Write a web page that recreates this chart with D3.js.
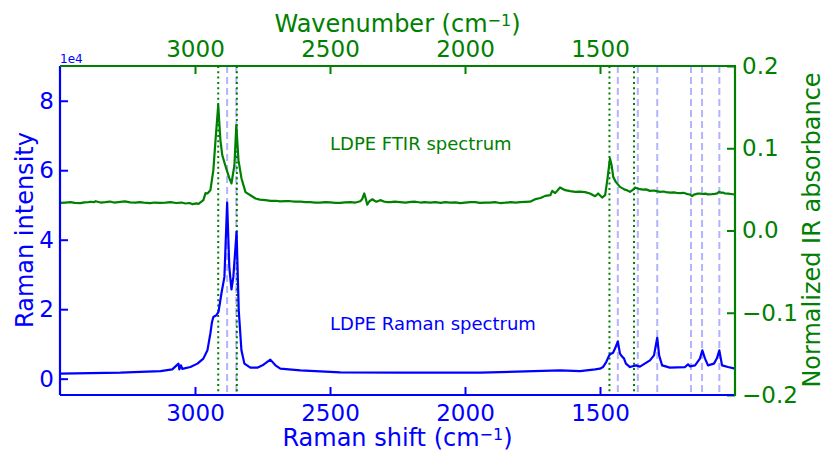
<!DOCTYPE html>
<html><head><meta charset="utf-8">
<script src="https://cdn.jsdelivr.net/npm/d3@7"></script>
<style>
body{margin:0;background:#fff;}
svg{font-family:"DejaVu Sans",sans-serif;}
</style></head>
<body><svg id="chart" width="825" height="452"></svg>
<script>
// Raman spectrum (blue, left axis)
const ramanShift = [3500,3276,3128,3084,3061,3058,3052,3047,3017,2991,2969,2954,2943,2937,2932,2921,2913,2902,2891,2881,2873,2865,2858,2846,2838,2828,2817,2795,2769,2750,2721,2702,2684,2610,2462,2240,1944,1648,1574,1518,1500,1489,1477,1466,1459,1452,1444,1434,1426,1419,1411,1404,1389,1367,1352,1315,1300,1288,1281,1270,1241,1185,1174,1167,1148,1130,1121,1111,1100,1078,1067,1058,1048,1026,1000];
const ramanIntensity = [1440,1730,2190,2680,4330,2680,3840,2830,3350,4330,5770,8160,13070,16330,17770,18260,19210,24600,29300,50650,32190,25670,29300,42280,19700,8160,4330,3170,3170,3840,5480,3840,2880,2390,1820,1730,1730,2390,2190,2680,2880,3350,4790,6720,7210,7380,8740,10760,7210,6430,5770,4330,3350,3840,3460,5280,6720,11770,6720,3840,3170,3350,4120,3550,3840,5770,8160,5770,3840,4330,5860,8160,3840,3350,2880];
// FTIR spectrum (green, right axis)
const irWavenumber = [
  3500,3480,3461,3445,3424,3410,3395,3387,3375,3368,
  3350,3332,3315,3300,3276,3260,3240,3220,3205,3190,
  3165,3150,3130,3109,3090,3070,3050,3035,3020,3009,
  2995,2987,2969,2961,2954,2943,2932,2924,2914,2906,
  2899,2888,2873,2865,2854,2847,2839,2828,2813,2795,
  2776,2760,2739,2720,2700,2685,2665,2647,2630,2610,
  2590,2573,2555,2536,2518,2499,2480,2462,2445,2425,
  2405,2388,2381,2373,2367,2362,2354,2343,2335,2328,
  2314,2300,2290,2277,2260,2240,2220,2200,2184,2165,
  2150,2129,2110,2090,2073,2055,2035,2018,2000,1980,
  1962,1945,1925,1907,1890,1870,1851,1830,1812,1796,
  1778,1759,1740,1720,1703,1684,1677,1666,1648,1629,
  1610,1592,1575,1555,1537,1518,1507,1492,1481,1473,
  1463,1457,1451,1441,1426,1410,1400,1389,1380,1370,
  1360,1352,1340,1330,1315,1300,1290,1278,1265,1255,
  1241,1225,1215,1204,1190,1180,1167,1159,1152,1145,
  1138,1130,1120,1110,1100,1085,1075,1066,1059,1050,
  1045,1037,1025,1015,1000];
const irAbsorbance = [
  0.0336,0.0340,0.0344,0.0336,0.0332,0.0342,0.0346,0.0350,0.0344,0.0356,
  0.0340,0.0344,0.0352,0.0340,0.0348,0.0354,0.0342,0.0338,0.0346,0.0340,
  0.0332,0.0340,0.0336,0.0338,0.0344,0.0334,0.0340,0.0328,0.0334,0.0320,
  0.0330,0.0324,0.0369,0.0454,0.0450,0.0490,0.0734,0.1099,0.1524,0.1099,
  0.0916,0.0794,0.0636,0.0572,0.0794,0.1281,0.0855,0.0636,0.0466,0.0429,
  0.0389,0.0375,0.0369,0.0360,0.0362,0.0354,0.0358,0.0356,0.0350,0.0350,
  0.0346,0.0344,0.0340,0.0338,0.0346,0.0341,0.0336,0.0335,0.0342,0.0344,
  0.0340,0.0356,0.0380,0.0450,0.0380,0.0314,0.0356,0.0380,0.0362,0.0350,
  0.0369,0.0352,0.0346,0.0344,0.0350,0.0344,0.0338,0.0348,0.0350,0.0340,
  0.0346,0.0338,0.0344,0.0336,0.0344,0.0338,0.0342,0.0332,0.0340,0.0346,
  0.0344,0.0336,0.0340,0.0338,0.0344,0.0334,0.0338,0.0344,0.0340,0.0344,
  0.0348,0.0350,0.0381,0.0395,0.0421,0.0429,0.0482,0.0454,0.0523,0.0490,
  0.0478,0.0470,0.0472,0.0466,0.0450,0.0417,0.0450,0.0401,0.0429,0.0612,
  0.0876,0.0794,0.0652,0.0588,0.0530,0.0500,0.0490,0.0470,0.0490,0.0521,
  0.0510,0.0502,0.0496,0.0500,0.0482,0.0486,0.0478,0.0470,0.0474,0.0466,
  0.0460,0.0464,0.0456,0.0454,0.0458,0.0446,0.0438,0.0417,0.0436,0.0442,
  0.0448,0.0450,0.0444,0.0448,0.0440,0.0442,0.0446,0.0452,0.0470,0.0458,
  0.0462,0.0450,0.0448,0.0444,0.0438];
// marker lines
const irLines = [2914, 2845, 1465, 1374];
const ramanLines = [2881, 2847, 1434, 1360, 1288, 1163, 1122, 1058];
// ticks
const xTicks = [3000, 2500, 2000, 1500];
const leftTicks = [0, 20000, 40000, 60000, 80000];
const rightTicks = [-0.2, -0.1, 0.0, 0.1, 0.2];

const BLUE = "#0000ff", GREEN = "#008000", LIGHT = "#b3b3ff";
const m = {left: 60, top: 66, right: 735, bottom: 395};
const svg = d3.select("#chart");

const x = d3.scaleLinear().domain([3500, 1000]).range([m.left, m.right]);
const yL = d3.scaleLinear().domain([-4700, 90000]).range([m.bottom, m.top]);
const yR = d3.scaleLinear().domain([-0.2, 0.2]).range([m.bottom, m.top]);

const g = svg.append("g");

// vertical marker lines
g.selectAll(".rl").data(ramanLines).join("line")
  .attr("x1", d => x(d)).attr("x2", d => x(d)).attr("y1", m.top).attr("y2", m.bottom)
  .attr("stroke", LIGHT).attr("stroke-width", 2).attr("stroke-dasharray", "7,4");
g.selectAll(".il").data(irLines).join("line")
  .attr("x1", d => x(d)).attr("x2", d => x(d)).attr("y1", m.top).attr("y2", m.bottom)
  .attr("stroke", GREEN).attr("stroke-width", 2).attr("stroke-dasharray", "2,3.3");

// curves
const ramanData = d3.zip(ramanShift, ramanIntensity);
const irData = d3.zip(irWavenumber, irAbsorbance);
g.append("path").datum(ramanData)
  .attr("d", d3.line().x(d => x(d[0])).y(d => yL(d[1])))
  .attr("fill", "none").attr("stroke", BLUE).attr("stroke-width", 2.2).attr("stroke-linejoin", "round");
g.append("path").datum(irData)
  .attr("d", d3.line().x(d => x(d[0])).y(d => yR(d[1])))
  .attr("fill", "none").attr("stroke", GREEN).attr("stroke-width", 2.2).attr("stroke-linejoin", "round");

// axes
function styleAxis(sel, color) {
  sel.select(".domain").remove();
  sel.selectAll(".tick line").attr("stroke", color).attr("stroke-width", 2);
  sel.selectAll(".tick text").attr("fill", color).style("font-size", "23px").style("font-family", "DejaVu Sans");
}
const fmtMinus = s => s.replace("-", "\u2212");
svg.append("g").attr("transform", `translate(0,${m.bottom})`)
  .call(d3.axisBottom(x).tickValues(xTicks).tickSize(-8).tickPadding(10).tickFormat(d3.format("d")))
  .call(s => styleAxis(s, BLUE));
svg.append("g").attr("transform", `translate(0,${m.top})`)
  .call(d3.axisTop(x).tickValues(xTicks).tickSize(-8).tickPadding(9).tickFormat(d3.format("d")))
  .call(s => styleAxis(s, GREEN));
svg.append("g").attr("transform", `translate(${m.left},0)`)
  .call(d3.axisLeft(yL).tickValues(leftTicks).tickSize(-8).tickPadding(6).tickFormat(d => d / 10000))
  .call(s => styleAxis(s, BLUE));
svg.append("g").attr("transform", `translate(${m.right},0)`)
  .call(d3.axisRight(yR).tickValues(rightTicks).tickSize(-8).tickPadding(7).tickFormat(d => fmtMinus(d3.format(".1f")(d))))
  .call(s => styleAxis(s, GREEN));

// spines
svg.append("line").attr("x1", m.left).attr("x2", m.left).attr("y1", m.top).attr("y2", m.bottom).attr("stroke", BLUE).attr("stroke-width", 2.2);
svg.append("line").attr("x1", m.left).attr("x2", m.right).attr("y1", m.bottom).attr("y2", m.bottom).attr("stroke", BLUE).attr("stroke-width", 2.2);
svg.append("line").attr("x1", m.left).attr("x2", m.right + 1).attr("y1", m.top).attr("y2", m.top).attr("stroke", GREEN).attr("stroke-width", 2.2);
svg.append("line").attr("x1", m.right).attr("x2", m.right).attr("y1", m.top).attr("y2", m.bottom + 1).attr("stroke", GREEN).attr("stroke-width", 2.2);

// offset text
svg.append("text").attr("x", m.left).attr("y", 63).attr("fill", BLUE).style("font-size", "12px").text("1e4");

// axis titles
function cmTitle(sel, label) {
  sel.append("tspan").text(label + " (cm");
  sel.append("tspan").attr("baseline-shift", "40%").style("font-size", "16px").text("\u22121");
  sel.append("tspan").text(")");
}
svg.append("text").attr("x", (m.left + m.right) / 2).attr("y", 446).attr("text-anchor", "middle")
  .attr("fill", BLUE).style("font-size", "24px").call(s => cmTitle(s, "Raman shift"));
svg.append("text").attr("x", (m.left + m.right) / 2).attr("y", 32).attr("text-anchor", "middle")
  .attr("fill", GREEN).style("font-size", "24px").call(s => cmTitle(s, "Wavenumber"));
svg.append("text").attr("transform", `translate(33,230) rotate(-90)`).attr("text-anchor", "middle")
  .attr("fill", BLUE).style("font-size", "24px").text("Raman intensity");
svg.append("text").attr("transform", `translate(820,230) rotate(-90)`).attr("text-anchor", "middle")
  .attr("fill", GREEN).style("font-size", "24px").text("Normalized IR absorbance");

// annotations
svg.append("text").attr("x", x(2500)).attr("y", yR(0.1) + 2).attr("fill", GREEN).style("font-size", "18px").text("LDPE FTIR spectrum");
svg.append("text").attr("x", x(2500)).attr("y", yL(14000)).attr("fill", BLUE).style("font-size", "18px").text("LDPE Raman spectrum");
</script></body></html>
